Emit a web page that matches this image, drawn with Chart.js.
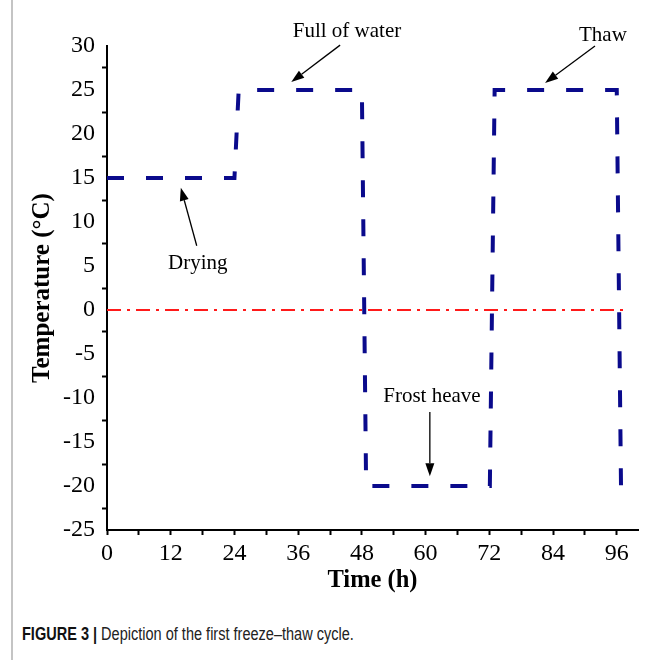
<!DOCTYPE html>
<html>
<head>
<meta charset="utf-8">
<script src="https://cdn.jsdelivr.net/npm/chart.js@4.4.0/dist/chart.umd.min.js"></script>
<style>
  body { margin: 0; background: #fff; }
  #marco { position: relative; width: 662px; height: 660px; overflow: hidden; }
  #borde { position: absolute; left: 11px; top: 0; width: 2px; height: 660px; background: #c4c4c4; }
  #caja { position: absolute; left: 0; top: 0; width: 662px; height: 605px; }
  #pie { position: absolute; left: 22px; top: 624px; font-family: 'Liberation Sans Narrow', 'Liberation Sans', sans-serif; font-size: 17.5px; color: #222; white-space: nowrap; transform: scaleX(0.83); transform-origin: 0 50%; }
  #pie b { color: #111; }
</style>
</head>
<body>
<div id="marco">
  <div id="borde"></div>
  <div id="caja"><canvas id="grafico" width="662" height="605"></canvas></div>
  <div id="pie"><b>FIGURE 3 |</b> Depiction of the first freeze–thaw cycle.</div>
</div>
<script>
// ciclo de temperatura (h, °C)
var horas       = [0, 24, 24.8, 48.0, 48.8, 72.1, 73.0, 96.0, 96.8, 98.7];
var temperatura = [15, 15, 25, 25, -20, -20, 25, 25, -20, -20];

// linea de 0 °C
var horas_cero = [0, 97.2];
var temp_cero  = [0, 0];

// marcas de los ejes
var ticks_x = [0, 6, 12, 18, 24, 30, 36, 42, 48, 54, 60, 66, 72, 78, 84, 90, 96];
var ticks_y = [-25, -22.5, -20, -17.5, -15, -12.5, -10, -7.5, -5, -2.5, 0, 2.5, 5, 7.5, 10, 12.5, 15, 17.5, 20, 22.5, 25, 27.5, 30];

// textos con flecha (en coordenadas de datos)
var notas = [
  { texto: 'Full of water', x: 45.2, y: 31.6, desde: [43.9, 30.1], hasta: [34.7, 25.9] },
  { texto: 'Thaw',          x: 93.4, y: 31.25, desde: [91.9, 30.0], hasta: [82.5, 25.8] },
  { texto: 'Drying',        x: 17.1, y: 5.3,  desde: [16.9, 7.3],  hasta: [13.9, 13.9] },
  { texto: 'Frost heave',   x: 61.2, y: -9.8, desde: [60.8, -11.6], hasta: [60.8, -18.9] }
];

function puntos(xs, ys) {
  return xs.map(function (v, i) { return { x: v, y: ys[i] }; });
}

var fuente = "'Liberation Serif', 'Times New Roman', serif";

var flechas = {
  id: 'flechas',
  afterDatasetsDraw: function (chart) {
    var ctx = chart.ctx, sx = chart.scales.x, sy = chart.scales.y;
    ctx.save();
    ctx.fillStyle = '#000';
    ctx.strokeStyle = '#000';
    ctx.lineWidth = 1.3;
    ctx.font = '21px ' + fuente;
    ctx.textAlign = 'center';
    ctx.textBaseline = 'middle';
    notas.forEach(function (n) {
      ctx.fillText(n.texto, sx.getPixelForValue(n.x), sy.getPixelForValue(n.y));
      var x1 = sx.getPixelForValue(n.desde[0]), y1 = sy.getPixelForValue(n.desde[1]);
      var x2 = sx.getPixelForValue(n.hasta[0]), y2 = sy.getPixelForValue(n.hasta[1]);
      var ang = Math.atan2(y2 - y1, x2 - x1);
      var largo = 13, ancho = 4.5;
      var bx = x2 - largo * Math.cos(ang), by = y2 - largo * Math.sin(ang);
      ctx.beginPath();
      ctx.moveTo(x1, y1);
      ctx.lineTo(bx, by);
      ctx.stroke();
      ctx.beginPath();
      ctx.moveTo(x2, y2);
      ctx.lineTo(bx + ancho * Math.sin(ang), by - ancho * Math.cos(ang));
      ctx.lineTo(bx - ancho * Math.sin(ang), by + ancho * Math.cos(ang));
      ctx.closePath();
      ctx.fill();
    });
    ctx.restore();
  }
};

new Chart(document.getElementById('grafico'), {
  type: 'line',
  data: {
    datasets: [
      {
        data: puntos(horas_cero, temp_cero),
        borderColor: '#ff1a1a',
        borderWidth: 2,
        borderDash: [14, 6, 3, 6],
        pointRadius: 0,
        tension: 0,
        fill: false
      },
      {
        data: puntos(horas, temperatura),
        borderColor: '#0a0a8c',
        borderWidth: 4,
        borderDash: [17, 22],
        pointRadius: 0,
        tension: 0,
        fill: false
      }
    ]
  },
  options: {
    responsive: false,
    animation: false,
    events: [],
    layout: { padding: { left: 28, top: 46, right: 24, bottom: 10 } },
    plugins: { legend: { display: false }, tooltip: { enabled: false } },
    scales: {
      x: {
        type: 'linear',
        min: 0,
        max: 100,
        afterBuildTicks: function (s) { s.ticks = ticks_x.map(function (v) { return { value: v }; }); },
        afterFit: function (s) { s.height = 65; },
        border: { display: true, color: '#000', width: 2 },
        grid: { drawOnChartArea: false, drawTicks: true, tickLength: 5, tickWidth: 2, tickColor: '#000' },
        ticks: {
          autoSkip: false, maxRotation: 0, padding: 4, color: '#000',
          font: { family: fuente, size: 24 },
          callback: function (v) { return v % 12 === 0 ? String(v) : ''; }
        },
        title: { display: true, text: 'Time (h)', color: '#000', padding: 0, font: { family: fuente, size: 24.5, weight: 'bold' } }
      },
      y: {
        min: -25,
        max: 30,
        afterBuildTicks: function (s) { s.ticks = ticks_y.map(function (v) { return { value: v }; }); },
        afterFit: function (s) { s.width = 79; },
        border: { display: true, color: '#000', width: 2 },
        grid: {
          drawOnChartArea: false, drawTicks: true, tickLength: 5, tickWidth: 2,
          tickColor: function (c) { return c.tick && c.tick.value % 5 === 0 ? 'rgba(0,0,0,0)' : '#000'; }
        },
        ticks: {
          autoSkip: false, padding: 7, color: '#000',
          font: { family: fuente, size: 24 },
          callback: function (v) { return v % 5 === 0 ? String(v) : ''; }
        },
        title: { display: true, text: 'Temperature (°C)', color: '#000', padding: 0, font: { family: fuente, size: 25, weight: 'bold' } }
      }
    }
  },
  plugins: [flechas]
});
</script>
</body>
</html>
